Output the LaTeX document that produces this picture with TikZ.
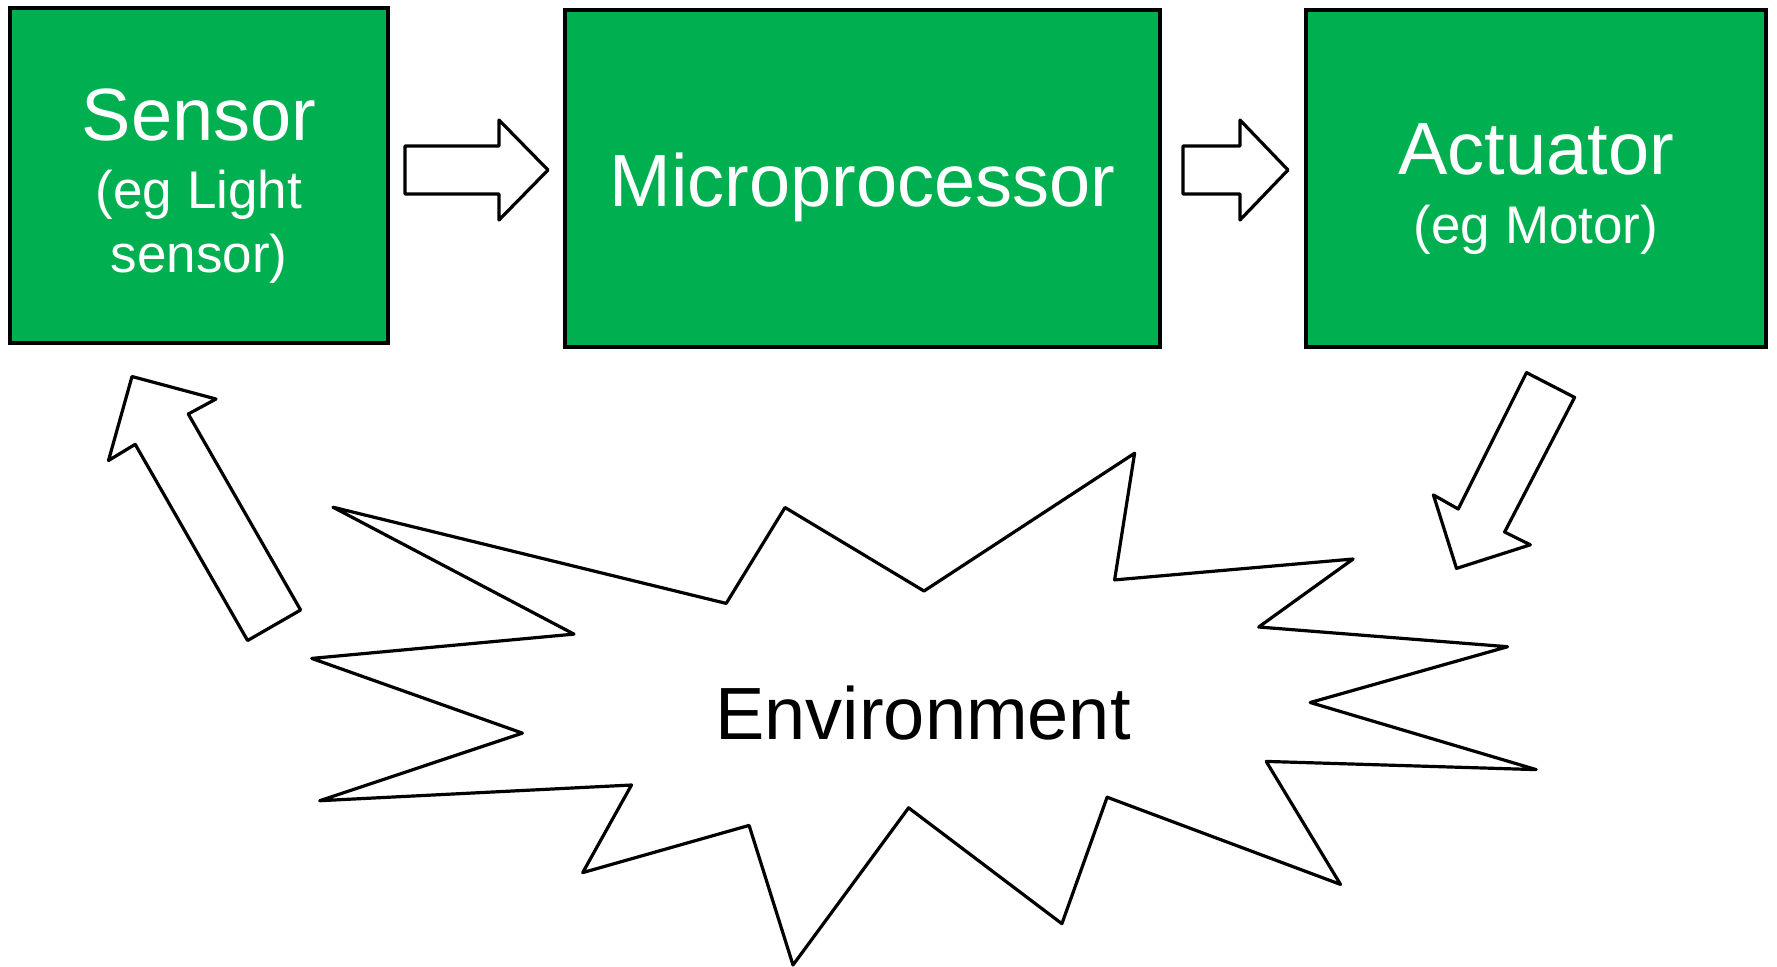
\documentclass[tikz,border=0pt]{standalone}
\usepackage{fontspec}
\setmainfont{Liberation Sans}
\definecolor{boxgreen}{HTML}{00B050}
\begin{document}
\begin{tikzpicture}[x=0.5pt, y=-0.5pt,
  box/.style={draw=black, fill=boxgreen, line width=1.7pt, rectangle, inner sep=0pt},
  bigtext/.style={font=\fontsize{37}{44}\selectfont, text=white, anchor=base, inner sep=0pt},
  smalltext/.style={font=\fontsize{26.5}{32}\selectfont, text=white, anchor=base, inner sep=0pt},
  envtext/.style={font=\fontsize{37}{44}\selectfont, text=black, anchor=base, inner sep=0pt},
  blockarrow/.style={draw=black, fill=white, line width=1.6pt, line join=round}]
\useasboundingbox (0,0) rectangle (1777,966);

% boxes
\node[box, minimum width=189pt, minimum height=167.5pt] (sensor) at (199,175.5) {};
\node[box, minimum width=297.5pt, minimum height=168.5pt] (micro) at (862.5,178.5) {};
\node[box, minimum width=230pt, minimum height=168.5pt] (act) at (1536,178.5) {};

% texts
\node[bigtext] (sensorT) at (199,140) {Sensor};
\node[smalltext] (sensorT2) at (199,208) {(eg Light};
\node[smalltext] (sensorT3) at (199,272) {sensor)};
\node[bigtext] (microT) at (862.5,206) {Microprocessor};
\node[bigtext] (actT) at (1536,174) {Actuator};
\node[smalltext] (actT2) at (1536,243) {(eg Motor)};

% horizontal block arrows
\draw[blockarrow] (405,146) -- (499,146) -- (499,120) -- (548,170) -- (499,220) -- (499,194) -- (405,194) -- cycle;
\draw[blockarrow] (1183,146) -- (1240,146) -- (1240,120) -- (1288,170) -- (1240,220) -- (1240,194) -- (1183,194) -- cycle;

% diagonal block arrows
\draw[blockarrow] (132,376.5) -- (216,399) -- (188.3,414) -- (300.6,610) -- (247.6,640.5) -- (135.2,444.3) -- (108.5,460.5) -- cycle;
\draw[blockarrow] (1526.5,372.6) -- (1574.6,397.4) -- (1504.6,532) -- (1530.3,544.8) -- (1456.5,568.4) -- (1433.4,494.9) -- (1458.2,509) -- cycle;

% environment starburst
\draw[blockarrow] (333,507.2) -- (726.2,603.4) -- (785,507.5) -- (924,591) -- (1134.6,453.2) -- (1114.6,579.9)
  -- (1353.1,559) -- (1258.7,627) -- (1507.6,646.7) -- (1310.2,702.5) -- (1536.2,769.6) -- (1266.2,761.4)
  -- (1340.5,884.4) -- (1107.1,797.2) -- (1061.9,923.7) -- (908.6,807.8) -- (793,965) -- (749.1,825.4)
  -- (582.7,872.6) -- (631.5,785) -- (319.7,800.7) -- (522.4,733.1) -- (311.7,658.4) -- (574,634.1) -- cycle;
\node[envtext] (env) at (923,739) {Environment};
\end{tikzpicture}
\end{document}
